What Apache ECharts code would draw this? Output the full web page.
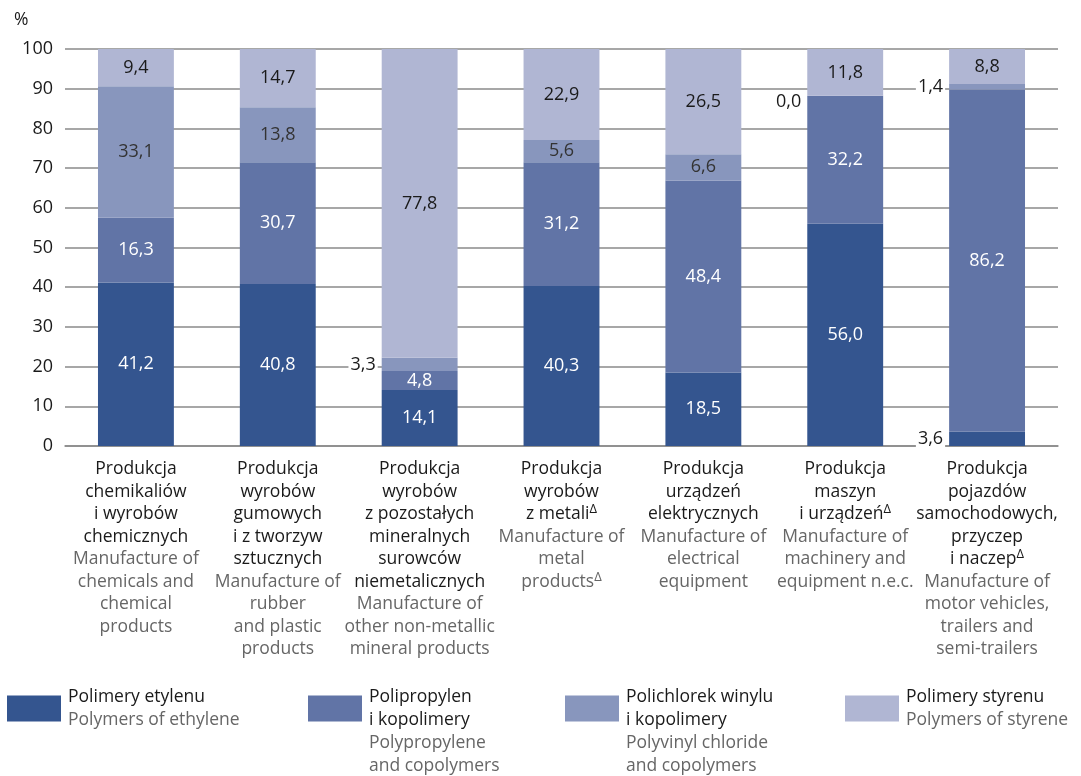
<!DOCTYPE html>
<html>
<head>
<meta charset="utf-8">
<script src="https://cdn.jsdelivr.net/npm/echarts@6/dist/echarts.min.js"></script>
<style>
  html, body { margin: 0; padding: 0; background: #ffffff; }
  #chart { width: 1081px; height: 776px; }
</style>
</head>
<body>
<div id="chart"></div>
<script>
// category labels (polish / english parts, one entry per line)
const categoriesPl = [
  ['Produkcja', 'chemikaliów', 'i wyrobów', 'chemicznych'],
  ['Produkcja', 'wyrobów', 'gumowych', 'i z tworzyw', 'sztucznych'],
  ['Produkcja', 'wyrobów', 'z pozostałych', 'mineralnych', 'surowców', 'niemetalicznych'],
  ['Produkcja', 'wyrobów', 'z metali^'],
  ['Produkcja', 'urządzeń', 'elektrycznych'],
  ['Produkcja', 'maszyn', 'i urządzeń^'],
  ['Produkcja', 'pojazdów', 'samochodowych,', 'przyczep', 'i naczep^']
];
const categoriesEn = [
  ['Manufacture of', 'chemicals and', 'chemical', 'products'],
  ['Manufacture of', 'rubber', 'and plastic', 'products'],
  ['Manufacture of', 'other non-metallic', 'mineral products'],
  ['Manufacture of', 'metal', 'products^'],
  ['Manufacture of', 'electrical', 'equipment'],
  ['Manufacture of', 'machinery and', 'equipment n.e.c.'],
  ['Manufacture of', 'motor vehicles,', 'trailers and', 'semi-trailers']
];

const seriesNames = ['Polimery etylenu', 'Polipropylen i kopolimery', 'Polichlorek winylu i kopolimery', 'Polimery styrenu'];
const legendPl = [['Polimery etylenu'], ['Polipropylen', 'i kopolimery'], ['Polichlorek winylu', 'i kopolimery'], ['Polimery styrenu']];
const legendEn = [['Polymers of ethylene'], ['Polypropylene', 'and copolymers'], ['Polyvinyl chloride', 'and copolymers'], ['Polymers of styrene']];

const ethylene = [41.2, 40.8, 14.1, 40.3, 18.5, 56.0, 3.6];
const polypropylene = [16.3, 30.7, 4.8, 31.2, 48.4, 32.2, 86.2];
const pvc = [33.1, 13.8, 3.3, 5.6, 6.6, 0.0, 1.4];
const styrene = [9.4, 14.7, 77.8, 22.9, 26.5, 11.8, 8.8];

// small segments whose labels sit to the left of the bar
const outsideLabels = [[6], [], [2, 5, 6], []];

const colors = ['#34558f', '#6174a6', '#8896bd', '#b0b6d3'];
const labelColors = ['#ffffff', '#ffffff', '#333333', '#1a1a1a'];
const FONT = '"Open Sans", sans-serif';
const TXT = 17.5;

const fmt = v => v.toFixed(1).replace('.', ',');

function richLines(lines, tag) {
  return lines.map(l => {
    if (l.endsWith('^')) return '{' + tag + '|' + l.slice(0, -1) + '}{' + tag + 'Sup|Δ}';
    return '{' + tag + '|' + l + '}';
  }).join('\n');
}

const values = [ethylene, polypropylene, pvc, styrene];

const series = values.map((vals, s) => ({
  name: seriesNames[s],
  type: 'bar',
  stack: 'total',
  barWidth: '53.5%',
  itemStyle: { color: colors[s] },
  label: {
    show: true,
    position: 'inside',
    color: labelColors[s],
    fontSize: 18,
    fontFamily: FONT,
    formatter: p => fmt(p.value)
  },
  data: vals.map((v, i) => {
    if (outsideLabels[s].indexOf(i) === -1) return v;
    return {
      value: v,
      label: {
        position: 'left',
        distance: 4,
        color: '#1a1a1a',
        backgroundColor: '#ffffff',
        padding: [0, 2],
        offset: v === 0 ? [0, 6] : [0, 0]
      }
    };
  })
}));

const legendX = [7, 308, 565, 845];
const legends = seriesNames.map((n, i) => ({
  data: [n],
  left: legendX[i],
  top: 688,
  padding: 0,
  itemWidth: 54,
  itemHeight: 26,
  itemGap: 0,
  icon: 'rect',
  selectedMode: false,
  formatter: () => richLines(legendPl[i], 'pl') + '\n' + richLines(legendEn[i], 'en'),
  textStyle: {
    padding: legendPl[i].length + legendEn[i].length > 2 ? [46, 0, 0, 2] : [0, 0, 0, 2],
    rich: {
      pl: { fontSize: TXT, fontFamily: FONT, color: '#1a1a1a', lineHeight: 23 },
      en: { fontSize: TXT, fontFamily: FONT, color: '#666666', lineHeight: 23 }
    }
  }
}));

const chart = echarts.init(document.getElementById('chart'));
chart.setOption({
  animation: false,
  backgroundColor: '#ffffff',
  title: {
    text: '%',
    left: 9,
    top: 6,
    textStyle: { fontSize: TXT, fontWeight: 'normal', color: '#1a1a1a', fontFamily: FONT }
  },
  legend: legends,
  grid: { left: 65, right: 23, top: 49, bottom: 330 },
  xAxis: {
    type: 'category',
    data: categoriesPl.map((c, i) => i),
    axisTick: { show: false },
    axisLine: { lineStyle: { color: '#8a8a8a', width: 1.5 } },
    axisLabel: {
      interval: 0,
      margin: 12,
      formatter: (v, i) => richLines(categoriesPl[i], 'pl') + '\n' + richLines(categoriesEn[i], 'en'),
      rich: {
        pl: { fontSize: TXT, fontFamily: FONT, color: '#1a1a1a', lineHeight: 22.5, align: 'center' },
        plSup: { fontSize: 13, fontFamily: FONT, color: '#1a1a1a', lineHeight: 22.5, verticalAlign: 'top', padding: [0, 0, 10, 0] },
        en: { fontSize: TXT, fontFamily: FONT, color: '#666666', lineHeight: 22.5, align: 'center' },
        enSup: { fontSize: 13, fontFamily: FONT, color: '#666666', lineHeight: 22.5, verticalAlign: 'top', padding: [0, 0, 10, 0] }
      }
    }
  },
  yAxis: {
    type: 'value',
    min: 0,
    max: 100,
    interval: 10,
    axisLine: { show: false },
    axisTick: { show: false },
    axisLabel: { fontSize: 18, fontFamily: FONT, color: '#1a1a1a', margin: 12 },
    splitLine: { lineStyle: { color: '#8a8a8a', width: 1.5 } }
  },
  series: series
});
</script>
</body>
</html>
